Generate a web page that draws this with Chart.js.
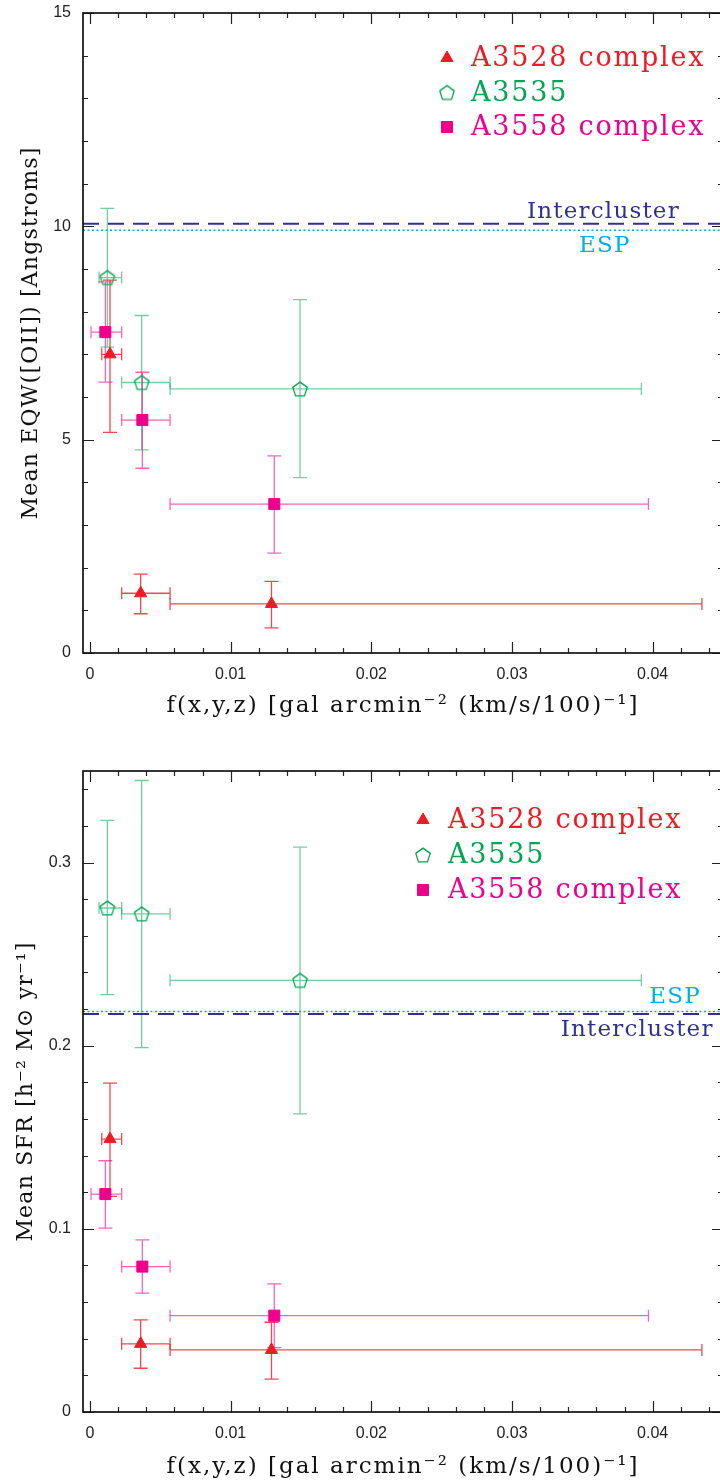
<!DOCTYPE html>
<html>
<head>
<meta charset="utf-8">
<script src="https://cdn.jsdelivr.net/npm/chart.js@4.4.1/dist/chart.umd.min.js"></script>
<style>
html, body { margin: 0; padding: 0; background: #fff; overflow: hidden; }
#wrap { position: relative; width: 720px; height: 1480px; overflow: hidden; }
.panel { position: absolute; left: 0; width: 724px; height: 740px; }
</style>
</head>
<body>
<div id="wrap">
  <div class="panel" style="top:0"><canvas id="eqwChart" width="724" height="740"></canvas></div>
  <div class="panel" style="top:740px"><canvas id="sfrChart" width="724" height="740"></canvas></div>
</div>
<script>
// Cluster names
const clusterNames = ['A3528 complex', 'A3535', 'A3558 complex'];

// f(x,y,z) of each density bin (point, lower and upper edge of the bin)
const a3528Dens = [0.00142, 0.0036, 0.0129];
const a3528DensLo = [0.00083, 0.00225, 0.00569];
const a3528DensHi = [0.00225, 0.00569, 0.0435];
const a3535Dens = [0.00123, 0.00367, 0.01493];
const a3535DensLo = [0.00064, 0.00225, 0.00569];
const a3535DensHi = [0.00225, 0.00569, 0.0392];
const a3558Dens = [0.00109, 0.00372, 0.0131];
const a3558DensLo = [0.00007, 0.00225, 0.00569];
const a3558DensHi = [0.00225, 0.00569, 0.0397];

// Mean EQW([OII]) in Angstroms
const a3528Eqw = [7.0, 1.40, 1.15];
const a3528EqwLo = [5.17, 0.92, 0.59];
const a3528EqwHi = [8.74, 1.85, 1.68];
const a3535Eqw = [8.80, 6.34, 6.19];
const a3535EqwLo = [7.17, 4.76, 4.11];
const a3535EqwHi = [10.42, 7.91, 8.28];
const a3558Eqw = [7.52, 5.46, 3.49];
const a3558EqwLo = [6.35, 4.33, 2.34];
const a3558EqwHi = [8.70, 6.58, 4.62];

// Mean SFR
const a3528Sfr = [0.149, 0.0372, 0.0339];
const a3528SfrLo = [0.1177, 0.0239, 0.018];
const a3528SfrHi = [0.1796, 0.0503, 0.049];
const a3535Sfr = [0.2752, 0.272, 0.2357];
const a3535SfrLo = [0.2279, 0.199, 0.1628];
const a3535SfrHi = [0.323, 0.3448, 0.3084];
const a3558Sfr = [0.119, 0.0794, 0.0526];
const a3558SfrLo = [0.1004, 0.0649, 0.0351];
const a3558SfrHi = [0.1372, 0.094, 0.070];

// Field reference levels
const eqwIntercluster = 10.06;
const eqwEsp = 9.91;
const sfrIntercluster = 0.2173;
const sfrEsp = 0.2187;

// Axes
const xTicks = [0, 0.01, 0.02, 0.03, 0.04];
const eqwTicks = [0, 5, 10, 15];
const sfrTicks = [0, 0.1, 0.2, 0.3];
const X_MIN = -0.0005, X_MAX = 0.045;

const RED = '#ed1c24', GREEN = '#00a651', PINK = '#ec008c', NAVY = '#2e3192', CYAN = '#00aeef';
const SERIF = '"DejaVu Serif", serif';

// open pentagon marker
function pentagon(color) {
    const c = document.createElement('canvas');
    c.width = 18; c.height = 18;
    const g = c.getContext('2d');
    g.strokeStyle = color;
    g.lineWidth = 1.3;
    g.beginPath();
    for (let i = 0; i < 5; i++) {
        const a = -Math.PI / 2 + i * 2 * Math.PI / 5;
        const px = 9 + 7.6 * Math.cos(a), py = 9.7 + 7.6 * Math.sin(a);
        if (i) g.lineTo(px, py); else g.moveTo(px, py);
    }
    g.closePath();
    g.stroke();
    return c;
}

const styles = [
    { shape: 'triangle', radius: 7, fill: RED, line: RED, err: 'rgba(237,28,36,0.8)', text: RED },
    { shape: pentagon(GREEN), radius: 8, fill: GREEN, line: GREEN, err: 'rgba(0,166,81,0.55)', text: GREEN },
    { shape: 'rect', radius: 7.8, fill: PINK, line: PINK, err: 'rgba(236,0,140,0.6)', text: PINK }
];

function clusterSet(i, xs, xLo, xHi, ys, yLo, yHi) {
    const s = styles[i];
    return {
        label: clusterNames[i],
        data: xs.map((x, k) => ({ x, y: ys[k], xMin: xLo[k], xMax: xHi[k], yMin: yLo[k], yMax: yHi[k] })),
        errColor: s.err,
        textColor: s.text,
        pointStyle: s.shape,
        pointRadius: s.radius,
        pointHoverRadius: s.radius,
        backgroundColor: s.fill,
        borderColor: s.line,
        borderWidth: 1,
        showLine: false,
        order: 0
    };
}

function levelLine(label, y, color, dash, width) {
    return {
        label,
        data: [{ x: X_MIN, y }, { x: X_MAX, y }],
        showLine: true,
        borderColor: color,
        borderDash: dash,
        borderWidth: width,
        pointRadius: 0,
        pointHoverRadius: 0,
        isLevel: true,
        order: 10
    };
}

function drawSpaced(ctx, text, x, y, spacing) {
    if ('letterSpacing' in ctx) ctx.letterSpacing = spacing + 'px';
    ctx.fillText(text, x, y);
    if ('letterSpacing' in ctx) ctx.letterSpacing = '0px';
}

// error bars, frame with inward ticks, legend, titles, level labels
const figurePlugin = {
    id: 'figure',
    beforeDatasetsDraw(chart) {
        const { ctx, chartArea: a, scales: { x, y } } = chart;
        ctx.save();
        ctx.beginPath();
        ctx.rect(a.left, a.top, a.right - a.left, a.bottom - a.top);
        ctx.clip();
        ctx.lineWidth = 1.3;
        chart.data.datasets.forEach(ds => {
            if (!ds.errColor) return;
            ctx.strokeStyle = ds.errColor;
            ds.data.forEach(p => {
                const px = x.getPixelForValue(p.x), py = y.getPixelForValue(p.y);
                const x0 = x.getPixelForValue(p.xMin), x1 = x.getPixelForValue(p.xMax);
                const y0 = y.getPixelForValue(p.yMin), y1 = y.getPixelForValue(p.yMax);
                ctx.beginPath();
                ctx.moveTo(x0, py); ctx.lineTo(x1, py);
                ctx.moveTo(x0, py - 6); ctx.lineTo(x0, py + 6);
                ctx.moveTo(x1, py - 6); ctx.lineTo(x1, py + 6);
                ctx.moveTo(px, y0); ctx.lineTo(px, y1);
                ctx.moveTo(px - 7, y0); ctx.lineTo(px + 7, y0);
                ctx.moveTo(px - 7, y1); ctx.lineTo(px + 7, y1);
                ctx.stroke();
            });
        });
        ctx.restore();
    },
    afterDraw(chart, args, opts) {
        const { ctx, chartArea: a, scales: { x, y } } = chart;
        ctx.save();

        // inward ticks on all four sides
        ctx.strokeStyle = '#222';
        ctx.lineWidth = 1.2;
        ctx.beginPath();
        for (let k = 0; k * opts.xMinor <= X_MAX + 1e-9; k++) {
            const v = k * opts.xMinor;
            const len = k % 5 === 0 ? 11 : 5;
            const px = Math.round(x.getPixelForValue(v)) + 0.5;
            ctx.moveTo(px, a.bottom); ctx.lineTo(px, a.bottom - len);
            ctx.moveTo(px, a.top); ctx.lineTo(px, a.top + len);
        }
        for (let k = 0; k * opts.yMinor <= y.max + 1e-9; k++) {
            const v = k * opts.yMinor;
            const len = k % 5 === 0 ? 11 : 5;
            const py = Math.round(y.getPixelForValue(v)) + 0.5;
            ctx.moveTo(a.left, py); ctx.lineTo(a.left + len, py);
            ctx.moveTo(a.right, py); ctx.lineTo(a.right - len, py);
        }
        ctx.stroke();
        ctx.lineWidth = 1.7;
        ctx.strokeStyle = '#111';
        ctx.strokeRect(a.left, a.top, a.right - a.left, a.bottom - a.top);

        // reference level labels
        ctx.font = '23px ' + SERIF;
        ctx.textAlign = 'center';
        ctx.textBaseline = 'alphabetic';
        opts.levels.forEach(l => {
            ctx.fillStyle = l.color;
            drawSpaced(ctx, l.text, x.getPixelForValue(l.x), y.getPixelForValue(l.y) + l.dy, 1.2);
        });

        // legend
        const lg = opts.legend;
        let row = 0;
        chart.data.datasets.forEach(ds => {
            if (ds.isLevel) return;
            const ly = lg.y + row * lg.gap;
            ctx.fillStyle = ds.backgroundColor;
            ctx.strokeStyle = ds.borderColor;
            ctx.lineWidth = 1;
            Chart.helpers.drawPoint(ctx, { pointStyle: ds.pointStyle, radius: ds.pointRadius, borderWidth: 1, rotation: 0 }, lg.x, ly);
            ctx.fillStyle = ds.textColor;
            ctx.font = '27px ' + SERIF;
            ctx.textAlign = 'left';
            drawSpaced(ctx, ds.label, lg.textX, ly + lg.baseline, 1.8);
            row++;
        });

        // axis titles
        ctx.fillStyle = '#111';
        ctx.textAlign = 'center';
        ctx.font = '23px ' + SERIF;
        drawSpaced(ctx, opts.xTitle, (a.left + a.right) / 2, opts.xTitleY, 2);
        ctx.font = '22px ' + SERIF;
        ctx.translate(opts.yTitleX, (a.top + a.bottom) / 2);
        ctx.rotate(-Math.PI / 2);
        drawSpaced(ctx, opts.yTitle, 0, 0, 1.2);
        ctx.restore();
    }
};

function noScalePadding(s) {
    s.paddingTop = 0; s.paddingBottom = 0; s.paddingLeft = 0; s.paddingRight = 0;
}

function makeChart(canvasId, datasets, yMax, yTicks, xHeight, padTop, figure) {
    return new Chart(document.getElementById(canvasId), {
        type: 'scatter',
        data: { datasets },
        options: {
            responsive: false,
            animation: false,
            events: [],
            layout: { autoPadding: false, padding: { top: padTop, right: 1, left: 0, bottom: 0 } },
            plugins: { legend: { display: false }, tooltip: { enabled: false }, figure },
            scales: {
                x: {
                    type: 'linear',
                    min: X_MIN,
                    max: X_MAX,
                    afterBuildTicks: s => { s.ticks = xTicks.map(v => ({ value: v })); },
                    afterFit: s => { s.height = xHeight; noScalePadding(s); },
                    grid: { display: false, drawTicks: false },
                    border: { display: false },
                    ticks: {
                        padding: 12,
                        color: '#222',
                        font: { family: '"Liberation Sans", Arial, sans-serif', size: 16 },
                        callback: v => String(v),
                        maxRotation: 0,
                        autoSkip: false
                    }
                },
                y: {
                    type: 'linear',
                    min: 0,
                    max: yMax,
                    afterBuildTicks: s => { s.ticks = yTicks.map(v => ({ value: v })); },
                    afterFit: s => { s.width = 83; noScalePadding(s); },
                    grid: { display: false, drawTicks: false },
                    border: { display: false },
                    ticks: {
                        padding: 12,
                        color: '#222',
                        font: { family: '"Liberation Sans", Arial, sans-serif', size: 16 },
                        callback: v => String(v),
                        autoSkip: false
                    }
                }
            }
        },
        plugins: [figurePlugin]
    });
}

const xTitle = 'f(x,y,z) [gal arcmin\u207B\u00B2 (km/s/100)\u207B\u00B9]';

// Top: mean EQW([OII])
makeChart('eqwChart', [
    levelLine('Intercluster', eqwIntercluster, NAVY, [16, 9], 2),
    levelLine('ESP', eqwEsp, CYAN, [2, 2.5], 1.5),
    clusterSet(0, a3528Dens, a3528DensLo, a3528DensHi, a3528Eqw, a3528EqwLo, a3528EqwHi),
    clusterSet(1, a3535Dens, a3535DensLo, a3535DensHi, a3535Eqw, a3535EqwLo, a3535EqwHi),
    clusterSet(2, a3558Dens, a3558DensLo, a3558DensHi, a3558Eqw, a3558EqwLo, a3558EqwHi)
], 15, eqwTicks, 87, 13, {
    xMinor: 0.002, yMinor: 1,
    xTitle, xTitleY: 712,
    yTitle: 'Mean EQW([OII]) [Angstroms]', yTitleX: 37,
    legend: { x: 447, y: 58, gap: 34.5, textX: 471, baseline: 8 },
    levels: [
        { text: 'Intercluster', color: NAVY, x: 0.0365, y: eqwIntercluster, dy: -6 },
        { text: 'ESP', color: CYAN, x: 0.0366, y: eqwEsp, dy: 22 }
    ]
});

// Bottom: mean SFR
makeChart('sfrChart', [
    levelLine('Intercluster', sfrIntercluster, NAVY, [16, 9], 2),
    levelLine('ESP', sfrEsp, CYAN, [2, 2.5], 1.5),
    clusterSet(0, a3528Dens, a3528DensLo, a3528DensHi, a3528Sfr, a3528SfrLo, a3528SfrHi),
    clusterSet(1, a3535Dens, a3535DensLo, a3535DensHi, a3535Sfr, a3535SfrLo, a3535SfrHi),
    clusterSet(2, a3558Dens, a3558DensLo, a3558DensHi, a3558Sfr, a3558SfrLo, a3558SfrHi)
], 0.35, sfrTicks, 68, 31, {
    xMinor: 0.002, yMinor: 0.02,
    xTitle, xTitleY: 733,
    yTitle: 'Mean SFR [h\u207B\u00B2 M\u2299 yr\u207B\u00B9]', yTitleX: 32,
    legend: { x: 423, y: 80, gap: 35, textX: 448, baseline: 8 },
    levels: [
        { text: 'ESP', color: CYAN, x: 0.0416, y: sfrEsp, dy: -8 },
        { text: 'Intercluster', color: NAVY, x: 0.0389, y: sfrIntercluster, dy: 22 }
    ]
});
</script>
</body>
</html>
